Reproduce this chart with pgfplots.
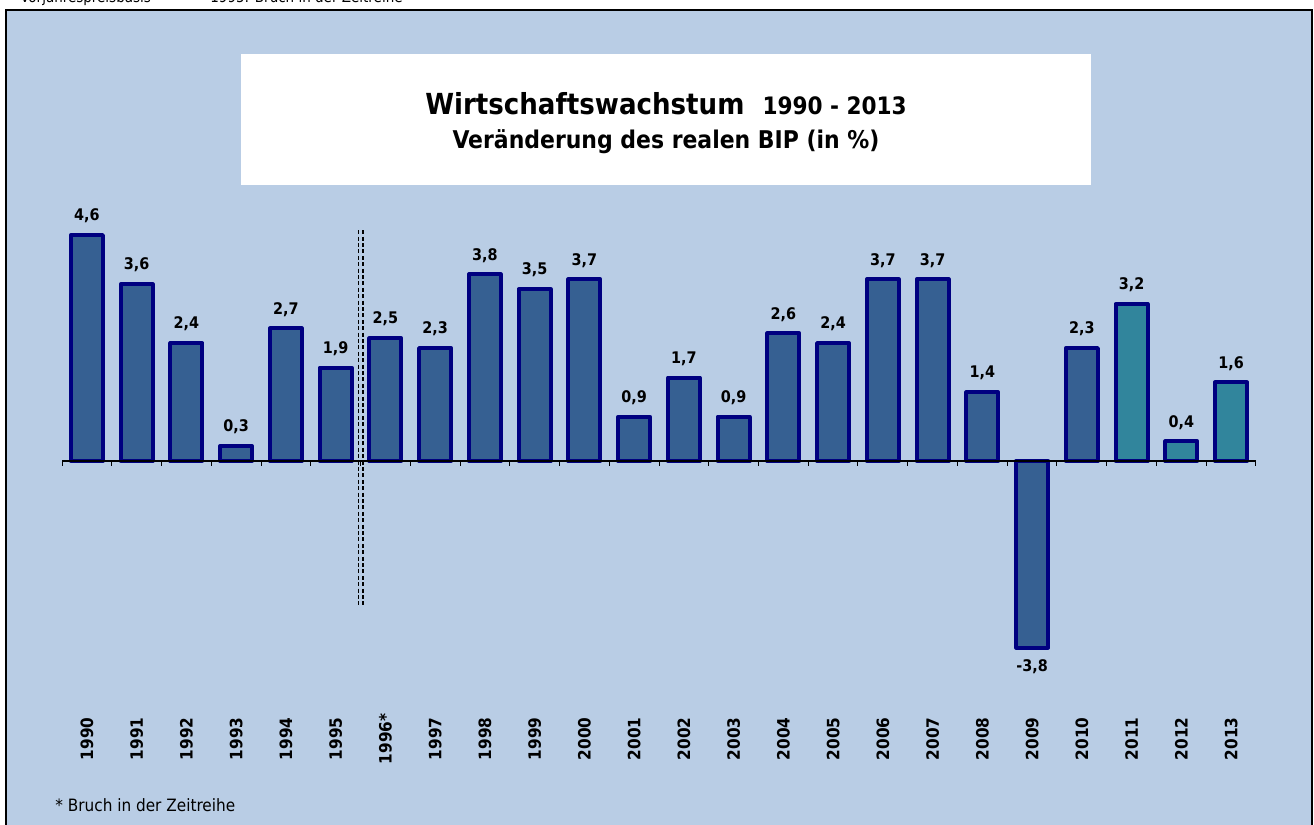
\documentclass[border=0pt]{standalone}
\usepackage{pgfplots}
\pgfplotsset{compat=1.18}
\usepackage{fontspec}
\setmainfont{DejaVu Sans Condensed}
\definecolor{bgblue}{HTML}{B9CDE5}
\definecolor{barblue}{HTML}{366092}
\definecolor{barteal}{HTML}{31859C}
\definecolor{navyline}{HTML}{000080}
\begin{document}
\begin{tikzpicture}
\useasboundingbox (0,0) rectangle (657pt,412.5pt);
\clip (0,0) rectangle (657pt,412.5pt);
\begin{axis}[
  at={(3pt,-2.5pt)}, anchor=south west,
  scale only axis, width=653pt, height=410pt,
  xmin=-1.626, xmax=24.626, ymin=-7.515, ymax=9.185,
  axis background/.style={fill=bgblue},
  axis line style={black, line width=1pt},
  ytick=\empty,
  xtick={0,...,23},
  xticklabels={1990,1991,1992,1993,1994,1995,1996*,1997,1998,1999,2000,2001,2002,2003,2004,2005,2006,2007,2008,2009,2010,2011,2012,2013},
  major tick length=0pt,
  xticklabel style={rotate=90, anchor=center, font=\bfseries\fontsize{8.5}{9}\selectfont},
  xticklabel shift=-45.5pt,
  ybar, bar width=16pt, bar shift=0pt,
  clip=false,
  nodes near coords,
  nodes near coords align={vertical},
  every node near coord/.append style={font=\bfseries\fontsize{8}{9}\selectfont, black, inner sep=5pt,
    /pgf/number format/.cd, use comma, fixed, fixed zerofill, precision=1, assume math mode=true},
]
\addplot[fill=barblue, draw=navyline, line width=2pt, line join=round] coordinates {
(0,4.6) (1,3.6) (2,2.4) (3,0.3) (4,2.7) (5,1.9) (6,2.5) (7,2.3) (8,3.8) (9,3.5)
(10,3.7) (11,0.9) (12,1.7) (13,0.9) (14,2.6) (15,2.4) (16,3.7) (17,3.7) (18,1.4)
(19,-3.8) (20,2.3)};
\addplot[fill=barteal, draw=navyline, line width=2pt, line join=round] coordinates {
(21,3.2) (22,0.4) (23,1.6)};
\draw[black, line width=0.6pt] (axis cs:-0.5,0) -- (axis cs:23.5,0);
\pgfplotsinvokeforeach{-0.5,0.5,...,23.5}{
  \draw[black, line width=0.5pt] (axis cs:#1,0) -- ([yshift=-2.5pt]axis cs:#1,0);
}
\draw[black, line width=0.8pt, dash pattern=on 2pt off 1.2pt] ([xshift=-1.1pt]axis cs:5.5,4.7) -- ([xshift=-1.1pt]axis cs:5.5,-2.97);
\draw[black, line width=0.8pt, dash pattern=on 2pt off 1.2pt] ([xshift=1.1pt]axis cs:5.5,4.7) -- ([xshift=1.1pt]axis cs:5.5,-2.97);
\end{axis}
% title box
\fill[white] (120.5pt,320pt) rectangle (545.5pt,385.5pt);
\node[anchor=center] at (333pt,360.5pt) {\bfseries\fontsize{14.5}{16}\selectfont Wirtschaftswachstum\ \ {\fontsize{12}{14}\selectfont 1990 - 2013}};
\node[anchor=center] at (333pt,341.5pt) {\bfseries\fontsize{12.2}{14}\selectfont Veränderung des realen BIP (in \%)};
% footnote
\node[anchor=west, inner sep=0pt] at (27.5pt,10pt) {\fontsize{8.5}{10}\selectfont * Bruch in der Zeitreihe};
% clipped top text
\node[anchor=base west, inner sep=0pt] at (10pt,411pt) {\fontsize{7.5}{8}\selectfont Vorjahrespreisbasis};
\node[anchor=base west, inner sep=0pt] at (105pt,411pt) {\fontsize{7.5}{8}\selectfont 1995: Bruch in der Zeitreihe};
\end{tikzpicture}
\end{document}
